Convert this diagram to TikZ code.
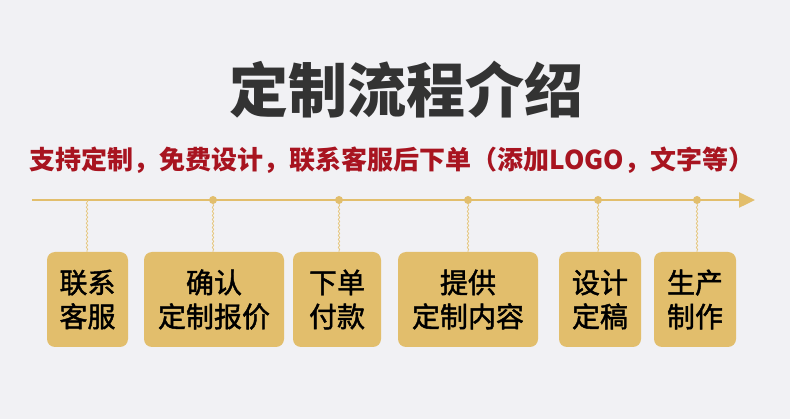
\documentclass[tikz,border=0pt]{standalone}
\usepackage{fontspec}
\setmainfont{Noto Sans CJK SC}
\newfontfamily\boxfont[FakeBold=1.6]{Noto Sans CJK SC}
\usetikzlibrary{arrows.meta,decorations.pathmorphing}
\definecolor{bg}{HTML}{F1F1F4}
\definecolor{gold}{HTML}{E2BE6C}
\definecolor{goldline}{HTML}{E6C77E}
\definecolor{titlec}{HTML}{333333}
\definecolor{subc}{HTML}{A81420}
\tikzset{
  stepbox/.style={fill=gold, rounded corners=8pt, inner sep=0pt, minimum height=95pt, align=center,
    font=\boxfont\fontsize{28}{34}\selectfont, text=black},
  dotnode/.style={circle, fill=gold, inner sep=0pt, minimum size=8pt},
  wave/.style={goldline, line width=0.8pt, decorate, decoration={snake, segment length=4pt, amplitude=0.7pt}}
}
\begin{document}
\begin{tikzpicture}[x=1pt,y=-1pt]
\fill[bg] (0,0) rectangle (790,419);
\useasboundingbox (0,0) rectangle (790,419);
\node[text=titlec, font=\fontsize{59}{61}\selectfont\bfseries] (title) at (406,90) {定制流程介绍};
\node[text=subc, font=\fontsize{26}{28}\selectfont\bfseries] (sub) at (392,160) {支持定制，免费设计，联系客服后下单（添加LOGO，文字等）};
\coordinate (ls) at (32,200);
\coordinate (le) at (755,200);
\draw[gold, line width=2.5pt, -{Triangle[length=16pt,width=15pt]}] (ls) -- (le);
\coordinate (d1) at (87,200);
\node[dotnode] (d2) at (213,200) {};
\node[dotnode] (d3) at (339,200) {};
\node[dotnode] (d4) at (468,200) {};
\node[dotnode] (d5) at (598,200) {};
\node[dotnode] (d6) at (697,200) {};
\node[stepbox, minimum width=81pt] (b1) at (87.5,299.5) {联系\\客服};
\node[stepbox, minimum width=140pt] (b2) at (214,299.5) {确认\\定制报价};
\node[stepbox, minimum width=88pt] (b3) at (337,299.5) {下单\\付款};
\node[stepbox, minimum width=140pt] (b4) at (468,299.5) {提供\\定制内容};
\node[stepbox, minimum width=82pt] (b5) at (600,299.5) {设计\\定稿};
\node[stepbox, minimum width=82pt] (b6) at (695,299.5) {生产\\制作};
\draw[wave] (d1) -- (d1 |- b1.north);
\draw[wave] (d2.south) -- (d2 |- b2.north);
\draw[wave] (d3.south) -- (d3 |- b3.north);
\draw[wave] (d4.south) -- (d4 |- b4.north);
\draw[wave] (d5.south) -- (d5 |- b5.north);
\draw[wave] (d6.south) -- (d6 |- b6.north);
\end{tikzpicture}
\end{document}
